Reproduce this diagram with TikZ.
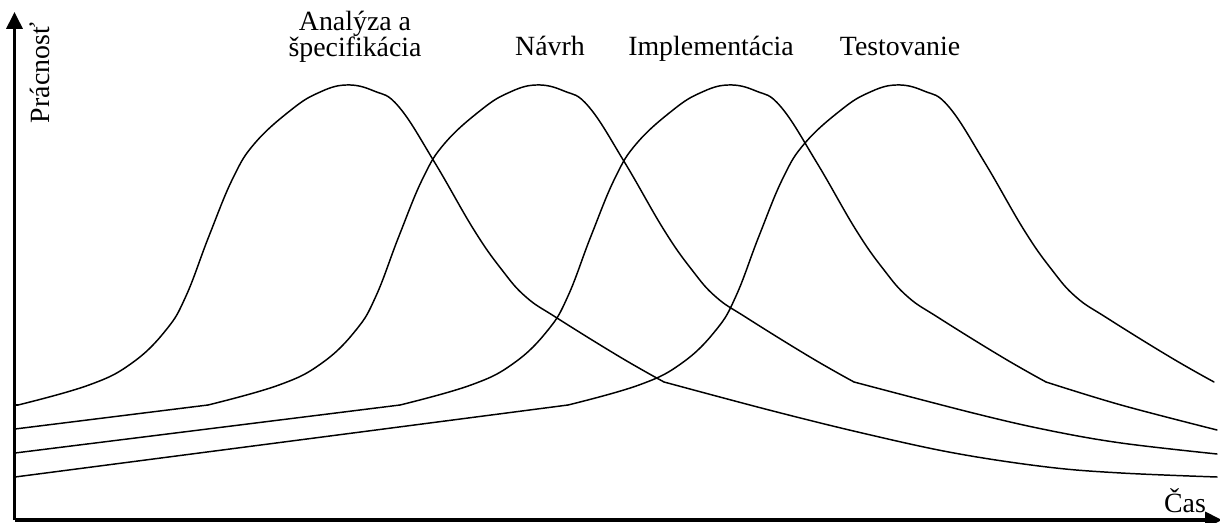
\documentclass[tikz,border=0pt]{standalone}
\usepackage{fontspec}
\setmainfont{Liberation Serif}
\usetikzlibrary{arrows.meta}

\begin{document}
\begin{tikzpicture}[x=0.025cm, y=-0.025cm,
  phase/.style={line width=1.05pt, line join=round, line cap=round},
  axisline/.style={line width=2.2pt, -{Triangle[length=0.42cm, width=0.4cm]}},
  lbl/.style={font=\fontsize{19.8}{18.8}\selectfont, inner sep=0pt, align=center}]

  % canvas
  \useasboundingbox (0,0) rectangle (1220,523);

  % axes
  \coordinate (origin) at (14.5,520);
  \coordinate (ytip) at (14.5,12);
  \coordinate (xtip) at (1222,520);
  \draw[axisline] (origin) -- (ytip);
  \draw[axisline] (origin) -- (xtip);

  % axis titles
  \node[lbl, rotate=90] (effort) at (40,73) {Prácnosť};
  \node[lbl, anchor=base] (time) at (1185,512) {Čas};

  % phase titles, sharing one baseline
  \node[lbl] (analysis) at (355,37) {Analýza a\\špecifikácia};
  \node[lbl, anchor=base] (design) at (550,56) {Návrh};
  \node[lbl, anchor=base] (impl) at (711,56) {Implementácia};
  \node[lbl, anchor=base] (testing) at (900,56) {Testovanie};

  % slowly rising lead-in of each phase
  \foreach \p/\y in {346/405, 536/429, 728/453, 896/477}
    \draw[phase] (15,\y) -- ({\p-328},405);

  % bell of each phase, centred on its peak
  \foreach \p in {346, 536, 728, 896}{
    \begin{scope}[shift={(\p,0)}]
      \draw[phase] plot[smooth, tension=0.7] coordinates {
        (-328,405) (-257,385) (-214,363) (-180,330) (-160,296) (-137,236)
        (-113,178) (-91,143) (-55,110) (-28,93) (0,85) (28,91) (53,107)
        (89,163) (128,230) (156,270) (180,297) (211,318) (274,357) (318,382)};
    \end{scope}
  }

  % decaying tails
  \draw[phase] plot[smooth, tension=0.6] coordinates {
    (664,382) (769,410) (862,433) (954,453) (1047,467) (1121,473) (1217,477)};
  \draw[phase] plot[smooth, tension=0.6] coordinates {
    (854,382) (973,413) (1047,430) (1121,443) (1217,454)};
  \draw[phase] plot[smooth, tension=0.6] coordinates {
    (1046,382) (1121,405) (1217,430)};
\end{tikzpicture}
\end{document}
